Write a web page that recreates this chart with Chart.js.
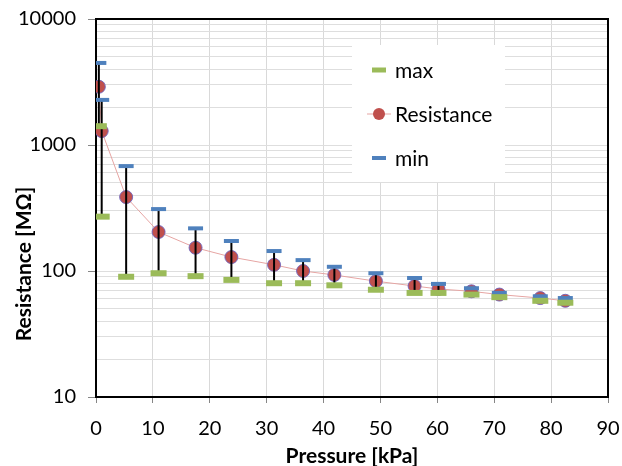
<!DOCTYPE html>
<html>
<head>
<meta charset="utf-8">
<script src="https://cdn.jsdelivr.net/npm/chart.js@4/dist/chart.umd.min.js"></script>
<style>
  html, body { margin: 0; padding: 0; background: #fff; }
  canvas { display: block; }
</style>
</head>
<body>
<canvas id="chart" width="622" height="466"></canvas>
<script>
// values
const pressure   = [0.5, 1.0, 5.3, 11, 17.5, 23.8, 31.3, 36.4, 41.9, 49.2, 56, 60.2, 66, 70.9, 78.1, 82.5];
const resistance = [2900, 1290, 386, 204, 153, 129, 112, 100, 93, 83, 76, 72, 69, 65, 61, 58];
const minVals    = [4480, 2280, 680, 310, 218, 173, 144, 122, 108, 96, 88, 79, 73, 67, 63, 61];
const maxVals    = [1410, 270, 90, 96, 91, 85, 80, 80, 77, 71, 67, 67, 65, 62, 58, 56];
// black error bars (only visible on the first 12 points)
const errTop     = [4480, 2280, 680, 310, 218, 173, 144, 122, 108, 96, 88, 79, null, null, null, null];
const errBottom  = [1410, 270, 90, 96, 91, 85, 80, 80, 77, 71, 67, 67, null, null, null, null];

const yMajorTicks = [10, 100, 1000, 10000];
const yMinorSteps = [2, 3, 4, 5, 6, 7, 8, 9];
const xTicks = [0, 10, 20, 30, 40, 50, 60, 70, 80, 90];

const FONT = 'Lato, "Open Sans", sans-serif';
const GREEN = '#9bbb59', BLUE = '#4f81bd', RED = '#c0504d';

function pts(ys) {
    return pressure.map((x, i) => ({ x: x, y: ys[i] }));
}

// grid values for the log axis: decades plus 2..9 within each
const yGridValues = [];
yMajorTicks.forEach((d, i) => {
    yGridValues.push(d);
    if (i < yMajorTicks.length - 1) yMinorSteps.forEach(s => yGridValues.push(d * s));
});

const errorBars = {
    id: 'errorBars',
    afterDatasetDraw(chart, args) {
        if (args.index !== 1) return;
        const ctx = chart.ctx, xs = chart.scales.x, ys = chart.scales.y;
        ctx.save();
        ctx.strokeStyle = '#000';
        ctx.lineWidth = 2;
        pressure.forEach((p, i) => {
            if (errTop[i] == null) return;
            const x = xs.getPixelForValue(p);
            ctx.beginPath();
            ctx.moveTo(x, ys.getPixelForValue(errTop[i]));
            ctx.lineTo(x, ys.getPixelForValue(errBottom[i]));
            ctx.stroke();
        });
        ctx.restore();
    }
};

const frame = {
    id: 'frame',
    beforeDatasetsDraw(chart) {
        const a = chart.chartArea, ctx = chart.ctx;
        ctx.save();
        ctx.strokeStyle = '#000';
        ctx.lineWidth = 2;
        ctx.strokeRect(a.left, a.top, a.right - a.left, a.bottom - a.top);
        ctx.restore();
    }
};

const extras = {
    id: 'extras',
    afterDraw(chart) {
        const ctx = chart.ctx, a = chart.chartArea;
        ctx.save();
        // axis titles
        ctx.fillStyle = '#000';
        ctx.font = 'bold 21px ' + FONT;
        ctx.textAlign = 'center';
        ctx.textBaseline = 'middle';
        ctx.fillText('Pressure [kPa]', (a.left + a.right) / 2, 456);
        ctx.save();
        ctx.translate(24, 264);
        ctx.rotate(-Math.PI / 2);
        ctx.fillText('Resistance [MΩ]', 0, 0);
        ctx.restore();

        // legend box
        ctx.fillStyle = '#fff';
        ctx.fillRect(352, 45, 153, 137);
        [0, 1, 2].forEach(r => {
            const ds = chart.data.datasets[r];
            const y = 70 + r * 44;
            if (r === 1) {
                ctx.strokeStyle = '#e6a5a3';
                ctx.lineWidth = 1;
                ctx.beginPath(); ctx.moveTo(367, y); ctx.lineTo(391, y); ctx.stroke();
                ctx.fillStyle = RED;
                ctx.beginPath(); ctx.arc(379, y, 6, 0, Math.PI * 2); ctx.fill();
            } else {
                ctx.strokeStyle = ds.borderColor;
                ctx.lineWidth = r === 0 ? 5 : 4;
                ctx.beginPath(); ctx.moveTo(372, y); ctx.lineTo(386, y); ctx.stroke();
            }
            ctx.fillStyle = '#000';
            ctx.font = '21px ' + FONT;
            ctx.textAlign = 'left';
            ctx.fillText(ds.label, 395, y + 1);
        });
        ctx.restore();
    }
};

new Chart(document.getElementById('chart'), {
    type: 'scatter',
    data: {
        datasets: [
            {
                label: 'max',
                data: pts(maxVals),
                showLine: false,
                pointStyle: 'line',
                pointRadius: 8,
                pointHoverRadius: 8,
                pointBorderWidth: 6,
                borderColor: GREEN,
                backgroundColor: GREEN,
                order: 1
            },
            {
                label: 'Resistance',
                data: pts(resistance),
                showLine: true,
                borderColor: '#e6a5a3',
                borderWidth: 1,
                pointRadius: 6.5,
                pointBackgroundColor: RED,
                pointBorderColor: 'rgba(110,100,190,0.9)',
                pointBorderWidth: 1,
                order: 3
            },
            {
                label: 'min',
                data: pts(minVals),
                showLine: false,
                pointStyle: 'line',
                pointRadius: 7.5,
                pointHoverRadius: 7.5,
                pointBorderWidth: 4,
                borderColor: BLUE,
                backgroundColor: BLUE,
                order: 2
            }
        ]
    },
    options: {
        responsive: false,
        animation: false,
        devicePixelRatio: 1,
        layout: { padding: { left: 0, right: 12, top: 19, bottom: 0 } },
        plugins: { legend: { display: false }, tooltip: { enabled: false } },
        scales: {
            x: {
                type: 'linear',
                min: 0,
                max: 90,
                afterBuildTicks: s => { s.ticks = xTicks.map(v => ({ value: v })); },
                afterFit: s => { s.height = 69; s.paddingLeft = 0; s.paddingRight = 0; },
                grid: { color: '#d9d9d9', tickColor: '#868686', tickLength: 6 },
                border: { display: false },
                ticks: { color: '#000', font: { family: FONT, size: 20 }, padding: 14 }
            },
            y: {
                type: 'logarithmic',
                min: 10,
                max: 10000,
                afterBuildTicks: s => {
                    s.ticks = yGridValues.map(v => ({ value: v, major: yMajorTicks.includes(v) }));
                },
                afterFit: s => { s.width = 96; s.paddingTop = 0; s.paddingBottom = 0; },
                grid: {
                    color: '#dedede',
                    tickLength: 8,
                    tickColor: c => (c.tick && yMajorTicks.includes(c.tick.value)) ? '#868686' : 'rgba(0,0,0,0)'
                },
                border: { display: false },
                ticks: {
                    autoSkip: false,
                    color: '#000',
                    font: { family: FONT, size: 20 },
                    padding: 12,
                    callback: v => yMajorTicks.includes(v) ? String(v) : ''
                }
            }
        }
    },
    plugins: [frame, errorBars, extras]
});
</script>
</body>
</html>
